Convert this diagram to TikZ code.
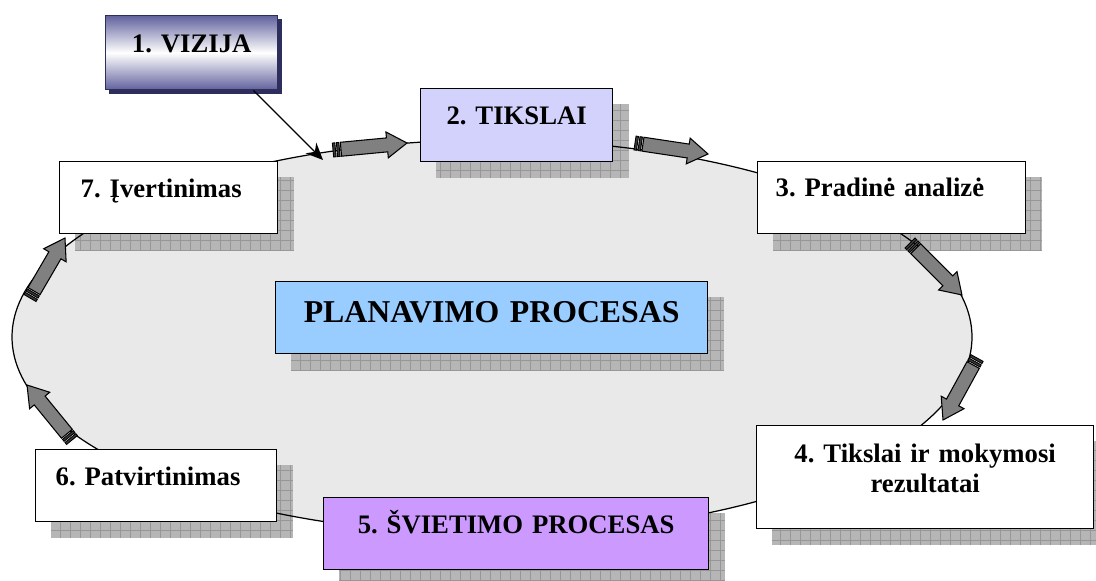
\documentclass[tikz,border=0pt]{standalone}
\usepackage{fontspec}
\setmainfont{Liberation Serif}
\frenchspacing
\usetikzlibrary{calc,arrows.meta}
\pgfdeclarelayer{back}
\pgfdeclarelayer{shade}
\pgfsetlayers{back,shade,main}
\definecolor{ellfill}{HTML}{E9E9E9}
\definecolor{tiksfill}{HTML}{D2D2FC}
\definecolor{planfill}{HTML}{99CCFF}
\definecolor{sviefill}{HTML}{CC99FF}
\definecolor{vizblue}{HTML}{62629E}
\definecolor{vizline}{HTML}{2E2E5C}
\definecolor{shadowgray}{HTML}{B6B6B6}
\definecolor{gridgray}{HTML}{979797}
\definecolor{argray}{HTML}{808080}
\definecolor{stripegray}{HTML}{3A3A3A}
\tikzset{
  stepbox/.style={draw, line width=0.8pt, anchor=north west, inner sep=0pt,
    font=\bfseries\fontsize{15.2}{17}\selectfont},
  shadegrid/.style={draw=gridgray, line width=0.3pt, step=0.2cm},
  arbody/.style={fill=argray, draw=black, line width=0.6pt},
  arstripe/.style={fill=stripegray, draw=black, line width=0.5pt}
}
\newcommand\stripedarrow[2]{%
  \path let \p1=($(#2)-(#1)$) in
    \pgfextra{\pgfmathparse{atan2(\y1,\x1)}\xdef\arang{\pgfmathresult}%
      \pgfmathparse{veclen(\x1,\y1)/0.5690551}\xdef\arlen{\pgfmathresult}};
  \begin{scope}[shift={(#1)}, rotate=\arang]
    \filldraw[arbody] (8,-7) -- ({\arlen-20},-7) -- ({\arlen-20},-13) -- (\arlen,0)
      -- ({\arlen-20},13) -- ({\arlen-20},7) -- (8,7) -- cycle;
    \filldraw[arstripe] (0,-7) rectangle (2.5,7);
    \filldraw[arstripe] (4,-7) rectangle (6.5,7);
  \end{scope}}
\begin{document}
\begin{tikzpicture}[x=0.02cm, y=-0.02cm]
\useasboundingbox (0,0) rectangle (1096,581);

\node[stepbox, draw=vizline, top color=vizblue, bottom color=vizblue, middle color=white,
  minimum width=3.44cm, text width=3.44cm, align=center, text height=0.74cm, text depth=0.74cm]
  (b1) at (105,15) {1. VIZIJA};
\node[stepbox, fill=tiksfill, minimum width=3.84cm, text width=3.84cm, align=center,
  text height=0.72cm, text depth=0.74cm] (b2) at (420,88) {2. TIKSLAI};
\node[stepbox, fill=white, minimum width=5.36cm, text width=4.64cm, align=left,
  text height=0.70cm, text depth=0.74cm] (b3) at (757,161) {3. Pradinė analizė};
\node[stepbox, fill=white, minimum width=6.74cm, text width=6.74cm, align=center,
  text height=0.74cm, text depth=1.32cm] (b4) at (756,425) {4. Tikslai ir mokymosi\\rezultatai};
\node[stepbox, fill=sviefill, minimum width=7.70cm, text width=7.70cm, align=center,
  text height=0.72cm, text depth=0.72cm] (b5) at (323,497) {5. ŠVIETIMO PROCESAS};
\node[stepbox, fill=white, minimum width=4.82cm, text width=4.02cm, align=left,
  text height=0.72cm, text depth=0.72cm] (b6) at (35,449) {6. Patvirtinimas};
\node[stepbox, fill=white, minimum width=4.36cm, text width=3.52cm, align=left,
  text height=0.72cm, text depth=0.72cm] (b7) at (59,161) {7. Įvertinimas};
\node[stepbox, fill=planfill, minimum width=8.64cm, text width=8.64cm, align=center,
  text height=0.82cm, text depth=0.62cm, font=\bfseries\fontsize{18.1}{21}\selectfont]
  (bp) at (275,281) {PLANAVIMO PROCESAS};

\begin{pgfonlayer}{back}
\fill[ellfill] (492,337) ellipse [x radius=480, y radius=197];
\end{pgfonlayer}
\begin{pgfonlayer}{shade}
\fill[vizline] ($(b1.south west)+(4,4)$) rectangle ($(b1.north east)+(4,4)$);
\foreach \b in {b2,b3,b4,b5,b6,b7,bp}{
  \fill[shadowgray] ($(\b.south west)+(16,16)$) rectangle ($(\b.north east)+(16,16)$);
  \draw[shadegrid] ($(\b.south west)+(16,16)$) grid ($(\b.north east)+(16,16)$);
}
\draw[line width=0.7pt] (492,337) ellipse [x radius=480, y radius=197];
\end{pgfonlayer}

\coordinate (vtip) at (323,160);
\draw[line width=0.7pt, -{Stealth[length=0.34cm, width=0.3cm]}] ($(b1.south east)+(-25,0)$) -- (vtip);

\coordinate (t1) at (333,150); \coordinate (h1) at (407,143);
\coordinate (t2) at (635,143); \coordinate (h2) at (708,154);
\coordinate (t3) at (910,243); \coordinate (h3) at (962,295);
\coordinate (t4) at (977,358); \coordinate (h4) at (943,420);
\coordinate (t5) at (72,440);  \coordinate (h5) at (27,385);
\coordinate (t6) at (30,298);  \coordinate (h6) at (65,238);
\foreach \i in {1,...,6}{\stripedarrow{t\i}{h\i}}
\end{tikzpicture}
\end{document}
